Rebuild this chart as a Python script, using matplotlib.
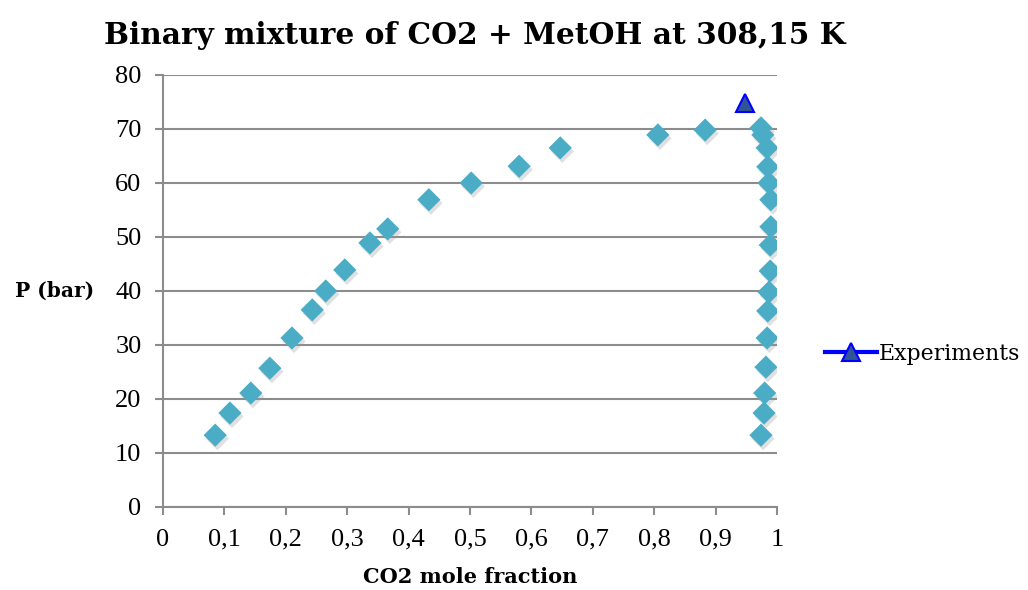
import matplotlib
matplotlib.use("Agg")
import matplotlib.pyplot as plt
import matplotlib.transforms as mtransforms
from matplotlib.ticker import FuncFormatter
from matplotlib.lines import Line2D

# Bubble-point branch (liquid) and dew-point branch (vapour)
x_liquid = [0.085, 0.109, 0.143, 0.174, 0.210, 0.243, 0.265, 0.296, 0.337,
            0.366, 0.433, 0.502, 0.580, 0.647, 0.806, 0.883]
p_liquid = [13.3, 17.4, 21.1, 25.7, 31.3, 36.5, 40.0, 43.9, 48.9,
            51.5, 56.9, 60.0, 63.1, 66.5, 68.9, 69.8]
x_vapour = [0.974, 0.979, 0.980, 0.982, 0.984, 0.985, 0.987, 0.989,
            0.989, 0.990, 0.990, 0.987, 0.985, 0.984, 0.977, 0.974]
p_vapour = [13.3, 17.4, 21.1, 25.9, 31.3, 36.3, 39.8, 43.7,
            48.5, 51.9, 56.9, 60.0, 63.0, 66.5, 68.9, 70.2]

# Experimental critical point
x_exp = [0.948]
p_exp = [74.8]

x_ticks = [0, 0.1, 0.2, 0.3, 0.4, 0.5, 0.6, 0.7, 0.8, 0.9, 1.0]
p_ticks = [0, 10, 20, 30, 40, 50, 60, 70, 80]

plt.rcParams["font.family"] = ["DejaVu Serif", "Liberation Serif"]
tick_font = ["Liberation Serif", "DejaVu Serif"]

fig = plt.figure(figsize=(10.28, 5.9), dpi=100)
ax = fig.add_axes([0.1586, 0.1407, 0.5972, 0.7322])

diamond_color = "#4bacc6"
xs = x_liquid + x_vapour
ps = p_liquid + p_vapour

# soft drop shadow under the markers
shadow = mtransforms.offset_copy(ax.transData, fig=fig, x=1.5, y=-2.5, units="points")
ax.scatter(xs, ps, marker="D", s=140, color="#9a9a9a", alpha=0.3,
           edgecolors="none", transform=shadow, zorder=2)
ax.scatter(xs, ps, marker="D", s=140, color=diamond_color,
           edgecolors="none", zorder=3)

ax.plot(x_exp, p_exp, color="#0000ff", lw=3, marker="^", markersize=13,
        markerfacecolor="#2f5597", markeredgecolor="#0000ff",
        markeredgewidth=1.5, zorder=4)

ax.set_xlim(0, 1)
ax.set_ylim(0, 80)
ax.set_xticks(x_ticks)
ax.set_yticks(p_ticks)
comma = FuncFormatter(lambda v, pos: ("%g" % round(v, 2)).replace(".", ","))
ax.xaxis.set_major_formatter(comma)
ax.yaxis.set_major_formatter(comma)

ax.grid(axis="y", color="#8c8c8c", lw=1.5)
ax.set_axisbelow(True)
for side in ("top", "right"):
    ax.spines[side].set_visible(False)
for side in ("left", "bottom"):
    ax.spines[side].set_color("#8c8c8c")
    ax.spines[side].set_linewidth(1.5)
ax.tick_params(axis="both", direction="out", length=5.5, width=1.5,
               color="#8c8c8c", labelsize=19, pad=10)
for lbl in ax.get_xticklabels() + ax.get_yticklabels():
    lbl.set_family(tick_font)

ax.set_xlabel("CO2 mole fraction", fontsize=15, fontweight="bold", labelpad=12)
ax.set_ylabel("P (bar)", fontsize=14.5, fontweight="bold", rotation=0,
              va="center", labelpad=0)
ax.yaxis.set_label_coords(-0.176, 0.5)
fig.suptitle("Binary mixture of CO2 + MetOH at 308,15 K", x=0.462, y=0.965,
             fontsize=21.3, fontweight="bold")

handle = Line2D([], [], color="#0000ff", lw=3, marker="^", markersize=13,
                markerfacecolor="#2f5597", markeredgecolor="#0000ff",
                markeredgewidth=1.5)
fig.legend([handle], ["Experiments"], loc="center left",
           bbox_to_anchor=(0.8025, 0.40), frameon=False, fontsize=15.8,
           borderpad=0, borderaxespad=0, handlelength=2.35, handletextpad=0.1)

fig.savefig("out.png", dpi=100)
